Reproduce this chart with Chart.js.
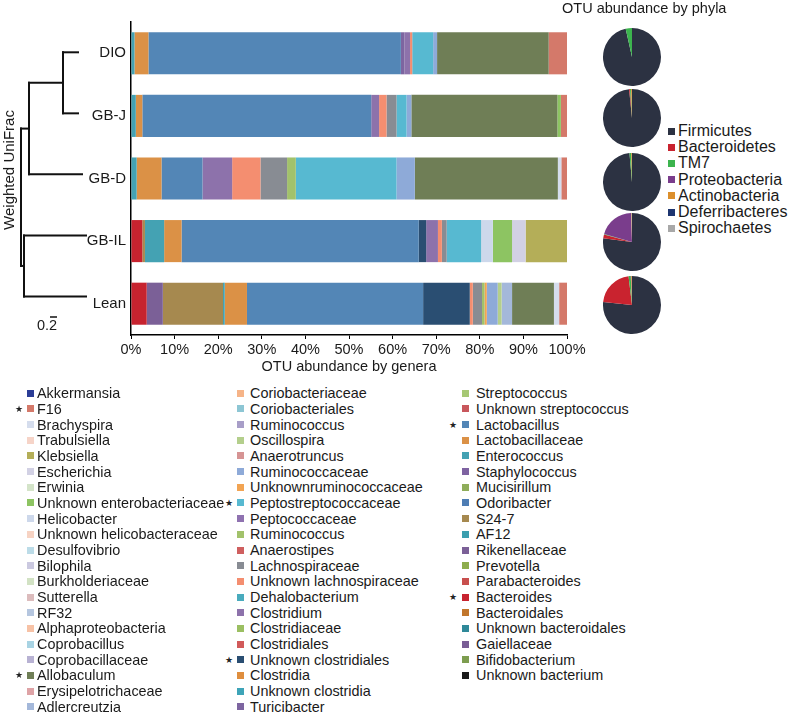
<!DOCTYPE html>
<html><head><meta charset="utf-8">
<script src="https://cdn.jsdelivr.net/npm/chart.js@4"></script>
<style>
html,body{margin:0;padding:0;background:#fff;}
body{width:788px;height:713px;position:relative;overflow:hidden;font-family:'Liberation Sans',Arial,Helvetica,sans-serif;color:#1a1a1a;}
#bar{position:absolute;left:0;top:0;}
.pie{position:absolute;}
.txt{position:absolute;white-space:nowrap;font-size:14.5px;line-height:16px;}
.row{position:absolute;height:16px;line-height:16px;font-size:14.4px;white-space:nowrap;}
.sq{position:absolute;width:7px;height:7px;top:4.5px;}
.star{position:absolute;font-family:'DejaVu Sans',sans-serif;line-height:16px;}
</style></head>
<body>
<canvas id="bar" width="600" height="380" style="width:600px;height:380px"></canvas>
<div id="extra"></div>
<script>
// ---------------- data ----------------
const samples = ["DIO", "GB-J", "GB-D", "GB-IL", "Lean"];
const xTickLabels = ["0%","10%","20%","30%","40%","50%","60%","70%","80%","90%","100%"];

// genera in legend order (column 1, 2, 3 top to bottom)
const genusNames = [
  "Akkermansia","F16","Brachyspira","Trabulsiella","Klebsiella","Escherichia","Erwinia",
  "Unknown enterobacteriaceae","Helicobacter","Unknown helicobacteraceae","Desulfovibrio","Bilophila",
  "Burkholderiaceae","Sutterella","RF32","Alphaproteobacteria","Coprobacillus","Coprobacillaceae",
  "Allobaculum","Erysipelotrichaceae","Adlercreutzia",
  "Coriobacteriaceae","Coriobacteriales","Ruminococcus","Oscillospira","Anaerotruncus","Ruminococcaceae",
  "Unknownruminococcaceae","Peptostreptococcaceae","Peptococcaceae","Ruminococcus","Anaerostipes",
  "Lachnospiraceae","Unknown lachnospiraceae","Dehalobacterium","Clostridium","Clostridiaceae",
  "Clostridiales","Unknown clostridiales","Clostridia","Unknown clostridia","Turicibacter",
  "Streptococcus","Unknown streptococcus","Lactobacillus","Lactobacillaceae","Enterococcus",
  "Staphylococcus","Mucisirillum","Odoribacter","S24-7","AF12","Rikenellaceae","Prevotella",
  "Parabacteroides","Bacteroides","Bacteroidales","Unknown bacteroidales","Gaiellaceae",
  "Bifidobacterium","Unknown bacterium"
];
const genusColors = [
  "#2b3d96","#d4796a","#d5dded","#f6d4c8","#b4ae58","#d2d1e4","#d4e4c9",
  "#8dc462","#cdd8eb","#f7d3c3","#bcdce8","#cbc9e0",
  "#d2e2c4","#dcbcbd","#b5c6df","#f7c2a6","#a8d3e3","#b8b2d3",
  "#6f7e56","#dea3a6","#a4b8da",
  "#f6b488","#8dc6d4","#a89ec8","#b4cf8c","#d69494","#8eaad8",
  "#f2a453","#57b9d1","#8f72b0","#a2c26b","#cf5f5f",
  "#888c93","#f48e70","#49abbd","#8d72ab","#9bbf62",
  "#d15a5a","#2a4e72","#df8e3e","#3ea4b8","#7d65a0",
  "#a6c874","#c8575c","#5386b6","#db9146","#44a2b3",
  "#7e62a1","#8fad5a","#4e7db4","#a6894f","#3b9faf","#7b6097","#8ead4d",
  "#c84f4d","#c7232f","#c1762c","#2f8999","#795d95",
  "#7d9d4f","#1a1a1a"
];
const legendColumnSizes = [21, 21, 19];
const starredGenera = ["F16","Allobaculum","Peptostreptococcaceae","Unknown clostridiales","Lactobacillus","Bacteroides"];

// OTU abundance (% of reads) per sample, [genus, value]; "Ruminococcus 2" = second Ruminococcus entry
const dioGenera = [["Enterococcus",0.8],["Lactobacillaceae",3.2],["Lactobacillus",57.9],["Turicibacter",0.8],
  ["Clostridium",1.3],["Unknown lachnospiraceae",0.5],["Peptostreptococcaceae",4.8],["Ruminococcaceae",0.9],
  ["Allobaculum",25.6],["F16",4.2]];
const gbjGenera = [["Enterococcus",1.1],["Lactobacillaceae",1.5],["Lactobacillus",52.5],["Clostridium",1.8],
  ["Unknown lachnospiraceae",1.7],["Lachnospiraceae",2.3],["Peptostreptococcaceae",2.3],["Ruminococcaceae",1.1],
  ["Allobaculum",33.5],["Unknown enterobacteriaceae",0.8],["F16",1.4]];
const gbdGenera = [["Enterococcus",1.3],["Lactobacillaceae",5.7],["Lactobacillus",9.4],["Clostridium",6.8],
  ["Unknown lachnospiraceae",6.5],["Lachnospiraceae",6.1],["Ruminococcus 2",2.0],["Peptostreptococcaceae",23.1],
  ["Ruminococcaceae",4.2],["Allobaculum",32.8],["Brachyspira",0.8],["F16",1.3]];
const gbilGenera = [["Bacteroides",2.6],["S24-7",0.6],["Enterococcus",4.4],["Lactobacillaceae",4.0],
  ["Lactobacillus",54.4],["Unknown clostridiales",1.7],["Clostridium",2.7],["Unknown lachnospiraceae",0.9],
  ["Lachnospiraceae",1.1],["Peptostreptococcaceae",7.9],["Helicobacter",2.7],["Unknown enterobacteriaceae",4.4],
  ["Escherichia",3.1],["Klebsiella",9.5]];
const leanGenera = [["Bacteroides",3.6],["Rikenellaceae",3.7],["S24-7",13.8],["Enterococcus",0.4],
  ["Lactobacillaceae",5.1],["Lactobacillus",40.4],["Unknown clostridiales",10.7],["Unknown lachnospiraceae",0.7],
  ["Lachnospiraceae",2.1],["Ruminococcus 2",0.6],["Unknownruminococcaceae",0.5],["Ruminococcaceae",2.5],
  ["Oscillospira",0.9],["Adlercreutzia",2.4],["Allobaculum",9.6],["Brachyspira",1.2],["F16",1.8]];
const sampleGenera = [dioGenera, gbjGenera, gbdGenera, gbilGenera, leanGenera];

// phyla pies
const phylaNames = ["Firmicutes","Bacteroidetes","TM7","Proteobacteria","Actinobacteria","Deferribacteres","Spirochaetes"];
const phylaColors = ["#2c3242","#c9232f","#3cb44e","#7a3d8c","#dc8f2c","#1d3570","#a8a8a8"];
const dioPhyla  = [96.5, 0.0, 3.5, 0.0, 0.0, 0, 0];
const gbjPhyla  = [98.4, 0.5, 0.6, 0.0, 0.5, 0, 0];
const gbdPhyla  = [98.6, 0.0, 1.0, 0.0, 0.4, 0, 0];
const gbilPhyla = [77.0, 2.2, 0.3, 20.0, 0.3, 0, 0.2];
const leanPhyla = [76.6, 21.5, 1.2, 0.3, 0.4, 0, 0];
const samplePhyla = [dioPhyla, gbjPhyla, gbdPhyla, gbilPhyla, leanPhyla];

// ---------------- build ----------------
const seen = {};
const genusKeys = genusNames.map(n => { if (seen[n]) return n + " 2"; seen[n] = true; return n; });

const datasets = [];
for (let i = genusNames.length - 1; i >= 0; i--) {
  const key = genusKeys[i];
  const data = sampleGenera.map(list => { const f = list.find(p => p[0] === key); return f ? f[1] : 0; });
  datasets.push({label: genusNames[i], data, backgroundColor: genusColors[i], borderWidth: 0});
}

const FONT = "'Liberation Sans', Arial, Helvetica, sans-serif";
Chart.defaults.font.family = FONT;

const dendroPlugin = {
  id: 'dendro',
  afterDraw(chart) {
    const y = chart.scales.y;
    const c = chart.ctx;
    const y0 = y.getPixelForValue(0), y1 = y.getPixelForValue(1);
    const step = (y1 - y0) * 0.975;
    const L = [0,1,2,3,4].map(i => y0 - 1 + i * step);
    c.save();
    c.strokeStyle = '#111';
    c.lineWidth = 2;
    c.lineCap = 'square';
    const seg = (x1, y1_, x2, y2) => { c.beginPath(); c.moveTo(x1, y1_); c.lineTo(x2, y2); c.stroke(); };
    const nA = 63, nB = 29, nC = 24, root = 21;
    seg(nA, L[0], 78, L[0]);
    seg(nA, L[1], 78, L[1]);
    seg(nA, L[0], nA, L[1]);
    const mA = (L[0] + L[1]) / 2;
    seg(nB, mA, nA, mA);
    seg(nB, L[2], 82, L[2]);
    seg(nB, mA, nB, L[2]);
    const mB = (mA + L[2]) / 2;
    seg(nC, L[3], 86, L[3]);
    seg(nC, L[4], 86, L[4]);
    seg(nC, L[3], nC, L[4]);
    const mC = (L[3] + L[4]) / 2;
    seg(root, mB, root, mC);
    seg(root, mB, nB, mB);
    seg(root, mC, nC, mC);
    // scale bar
    c.lineWidth = 1.5;
    c.lineCap = 'butt';
    seg(50, 317, 57, 317);
    c.restore();
  }
};

new Chart(document.getElementById('bar'), {
  type: 'bar',
  data: {labels: samples, datasets},
  options: {
    indexAxis: 'y',
    responsive: false,
    animation: false,
    layout: {padding: {top: 22, right: 33, left: 0, bottom: 0}},
    plugins: {legend: {display: false}, tooltip: {enabled: false}},
    datasets: {bar: {categoryPercentage: 1, barPercentage: 0.672}},
    scales: {
      x: {
        stacked: true, min: 0, max: 100,
        ticks: {stepSize: 10, autoSkip: false, maxRotation: 0, padding: 2, color: '#1a1a1a',
                font: {size: 14.5}, callback: (v, i) => xTickLabels[i]},
        grid: {display: true, drawOnChartArea: false, drawTicks: true, tickLength: 4, color: '#000', lineWidth: 1},
        border: {display: true, color: '#000', width: 1.5},
        title: {display: true, text: 'OTU abundance by genera', color: '#1a1a1a', font: {size: 14.5}, padding: {top: 2, bottom: 4}},
        afterFit: s => { s.height = 45; }
      },
      y: {
        stacked: true,
        grid: {display: false, drawTicks: false},
        border: {display: true, color: '#000', width: 1.5},
        ticks: {color: '#1a1a1a', font: {size: 15}, padding: 5},
        afterFit: s => { s.width = 131; }
      }
    }
  },
  plugins: [dendroPlugin]
});

// pies
const pieCenters = [[632, 57], [632, 118], [632, 181.5], [632, 241.5], [632, 305]];
const extra = document.getElementById('extra');
samplePhyla.forEach((vals, k) => {
  const cv = document.createElement('canvas');
  cv.className = 'pie';
  cv.width = 60; cv.height = 60;
  cv.style.width = '60px'; cv.style.height = '60px';
  cv.style.left = (pieCenters[k][0] - 30) + 'px';
  cv.style.top = (pieCenters[k][1] - 30) + 'px';
  extra.appendChild(cv);
  new Chart(cv, {
    type: 'pie',
    data: {labels: phylaNames, datasets: [{data: vals, backgroundColor: phylaColors, borderWidth: 0}]},
    options: {responsive: false, animation: false, layout: {padding: 1},
              plugins: {legend: {display: false}, tooltip: {enabled: false}}}
  });
});

function addText(text, left, top, style) {
  const d = document.createElement('div');
  d.className = 'txt';
  d.textContent = text;
  d.style.left = left + 'px';
  d.style.top = top + 'px';
  if (style) Object.assign(d.style, style);
  extra.appendChild(d);
  return d;
}

// phyla title and legend
addText('OTU abundance by phyla', 562, 0, {fontSize: '14.5px'});
phylaNames.forEach((n, i) => {
  const r = document.createElement('div');
  r.className = 'row';
  r.style.left = '668px';
  r.style.top = (131 + i * 16.2 - 8) + 'px';
  r.style.fontSize = '16px';
  const s = document.createElement('span'); s.className = 'sq'; s.style.left = '0px'; s.style.background = phylaColors[i];
  const t = document.createElement('span'); t.textContent = n; t.style.position = 'absolute'; t.style.left = '10px';
  r.appendChild(s); r.appendChild(t);
  extra.appendChild(r);
});

// y title and scale label
addText('Weighted UniFrac', 9 - 62, 170 - 8, {width: '124px', textAlign: 'center', transform: 'rotate(-90deg)', fontSize: '15px'});
addText('0.2', 37, 317, {fontSize: '14.5px'});

// genera legend
const colLayout = [{star: 15, sq: 27, txt: 37}, {star: 225, sq: 237, txt: 250}, {star: 449, sq: 462, txt: 476}];
let gi = 0;
legendColumnSizes.forEach((size, ci) => {
  for (let r = 0; r < size; r++, gi++) {
    const cy = 393.3 + r * 15.67;
    const row = document.createElement('div');
    row.className = 'row';
    row.style.left = '0px';
    row.style.top = (cy - 8) + 'px';
    const L = colLayout[ci];
    if (starredGenera.includes(genusNames[gi])) {
      const st = document.createElement('span'); st.className = 'star'; st.textContent = '\u2605';
      st.style.left = L.star + 'px'; st.style.fontSize = '9px'; st.style.color = '#222';
      row.appendChild(st);
    }
    const s = document.createElement('span'); s.className = 'sq'; s.style.left = L.sq + 'px'; s.style.background = genusColors[gi];
    const t = document.createElement('span'); t.textContent = genusNames[gi]; t.style.position = 'absolute'; t.style.left = L.txt + 'px';
    row.appendChild(s); row.appendChild(t);
    extra.appendChild(row);
  }
});
</script>
</body></html>
